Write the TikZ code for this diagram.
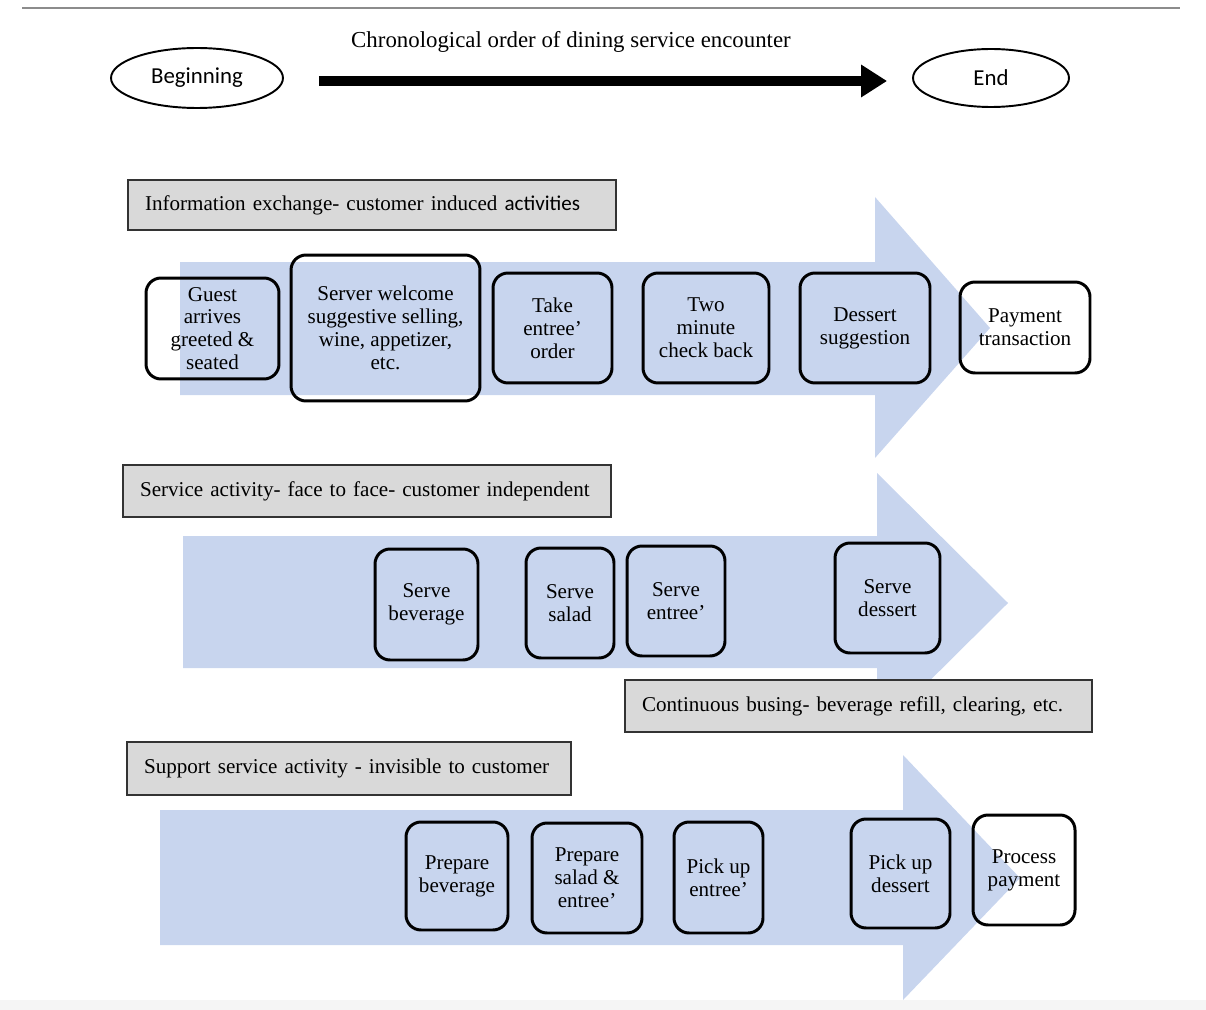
\documentclass[tikz,border=0pt]{standalone}
\usepackage{fontspec}
\setmainfont{Liberation Serif}
\newfontfamily\calibri{Carlito}
\usetikzlibrary{calc,arrows.meta,shapes.geometric}
\pgfdeclarelayer{background}
\pgfsetlayers{background,main}
\definecolor{lanefill}{RGB}{200,213,238}
\definecolor{headfill}{RGB}{217,217,217}
\begin{document}
\begin{tikzpicture}[x=0.02cm,y=-0.02cm,
                    act/.style={draw,line width=1.7pt,rounded corners=0.3cm,align=center,inner sep=0pt,
                                font={\fontsize{12}{13}\selectfont}},
                    phase/.style={draw=black!80,line width=1.2pt,fill=headfill,inner xsep=0.34cm,inner ysep=0pt,
                                  align=left,font={\fontsize{12}{14}\selectfont}},
                    terminal/.style={draw,ellipse,line width=1.1pt,font={\calibri\fontsize{13}{15}\selectfont}},
                    lane/.style={fill=lanefill}]
    \useasboundingbox (0,0) rectangle (1206,1010);
    \fill[black!4] (0,1000) rectangle (1206,1010);
    \draw[black!45,line width=1.4pt] (22,8) -- (1180,8);

    \node[terminal,minimum width=3.44cm,minimum height=1.2cm] (begin) at (197,78) {Beginning};
    \node[terminal,minimum width=3.12cm,minimum height=1.16cm] (end) at (991,78) {End};
    \node[font={\fontsize{13}{15}\selectfont}] (chrono) at (571,42) {Chronological order of dining service encounter};
    \draw[-{Triangle[length=0.52cm,width=0.62cm]},line width=0.2cm,shorten <=0.7cm,shorten >=0.5cm]
        ($(begin.east)+(0,3)$) -- ($(end.west)+(0,3)$);

    \begin{pgfonlayer}{background}
        \fill[lane] (180,262) -- (875,262) -- (875,197) -- (990,328) -- (875,458) -- (875,395) -- (180,395) -- cycle;
        \fill[lane] (183,536) -- (877,536) -- (877,473) -- (1008,603) -- (877,733) -- (877,668) -- (183,668) -- cycle;
        \fill[lane] (160,810) -- (903,810) -- (903,755) -- (1020,878) -- (903,1000) -- (903,945) -- (160,945) -- cycle;
    \end{pgfonlayer}

    \node[phase,text width=9.08cm,minimum height=1cm] (info) at (372,205) {Information exchange- customer induced {\calibri activities}};
    \node[act,minimum width=2.66cm,minimum height=2.02cm] (guest) at (212.5,328.5) {Guest\\arrives\\greeted \&\\seated};
    \node[act,minimum width=3.78cm,minimum height=2.92cm] (welcome) at (385.5,328) {Server welcome\\suggestive selling,\\wine, appetizer,\\etc.};
    \node[act,minimum width=2.38cm,minimum height=2.2cm] (take) at (552.5,328) {Take\\entree'\\order};
    \node[act,minimum width=2.52cm,minimum height=2.2cm] (checkback) at (706,328) {Two\\minute\\check back};
    \node[act,minimum width=2.6cm,minimum height=2.2cm] (suggest) at (865,328) {Dessert\\suggestion};
    \node[act,minimum width=2.6cm,minimum height=1.82cm] (payment) at (1025,327.5) {Payment\\transaction};

    \node[phase,text width=9.08cm,minimum height=1.04cm] (service) at (367,491) {Service activity- face to face- customer independent};
    \node[act,minimum width=2.06cm,minimum height=2.22cm] (servebev) at (426.5,604.5) {Serve\\beverage};
    \node[act,minimum width=1.76cm,minimum height=2.2cm] (servesal) at (570,603) {Serve\\salad};
    \node[act,minimum width=1.96cm,minimum height=2.2cm] (serveent) at (676,601) {Serve\\entree'};
    \node[act,minimum width=2.1cm,minimum height=2.2cm] (servedes) at (887.5,598) {Serve\\dessert};
    \node[phase,text width=8.66cm,minimum height=1.04cm] (busing) at (858.5,706) {Continuous busing- beverage refill, clearing, etc.};

    \node[phase,text width=8.2cm,minimum height=1.06cm] (support) at (349,768.5) {Support service activity - invisible to customer};
    \node[act,minimum width=2.04cm,minimum height=2.16cm] (prepbev) at (457,876) {Prepare\\beverage};
    \node[act,minimum width=2.2cm,minimum height=2.2cm] (prepsal) at (587,878) {Prepare\\salad \&\\entree'};
    \node[act,minimum width=1.78cm,minimum height=2.22cm] (pickent) at (718.5,877.5) {Pick up\\entree'};
    \node[act,minimum width=1.98cm,minimum height=2.18cm] (pickdes) at (900.5,873.5) {Pick up\\dessert};
    \node[act,minimum width=2.04cm,minimum height=2.2cm] (procpay) at (1024,870) {Process\\payment};
\end{tikzpicture}
\end{document}
